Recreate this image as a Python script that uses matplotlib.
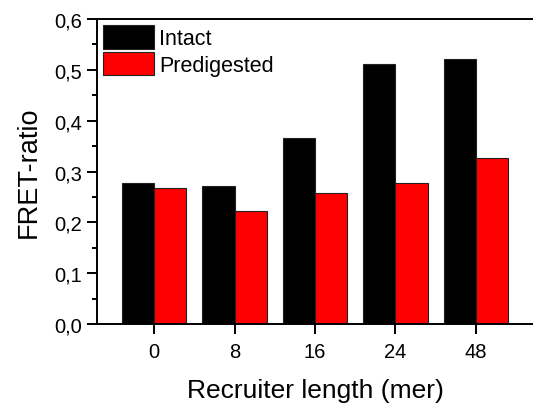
import numpy as np
import matplotlib.pyplot as plt
from matplotlib.ticker import MultipleLocator, FuncFormatter

# values
lengths = ["0", "8", "16", "24", "48"]
intact = [0.277, 0.272, 0.365, 0.511, 0.521]
predigested = [0.267, 0.222, 0.258, 0.277, 0.327]

plt.rcParams['font.family'] = ['Liberation Sans', 'DejaVu Sans']

fig = plt.figure(figsize=(5.33, 4.10), dpi=100)
ax = fig.add_axes([0.182, 0.2073, 0.818, 0.7439])

x = np.arange(len(lengths))
w = 0.4
ax.bar(x - w / 2, intact, w, color="black", edgecolor="#222222", linewidth=0.8, label="Intact")
ax.bar(x + w / 2, predigested, w, color="red", edgecolor="#222222", linewidth=0.8, label="Predigested")

ax.set_xlim(-0.71, 4.71)
ax.set_ylim(0, 0.6)
ax.set_xticks(x)
ax.set_xticklabels(lengths)
ax.yaxis.set_major_locator(MultipleLocator(0.1))
ax.yaxis.set_minor_locator(MultipleLocator(0.05))
ax.yaxis.set_major_formatter(FuncFormatter(lambda v, p: ("%.1f" % v).replace(".", ",")))

for s in ["left", "bottom", "top"]:
    ax.spines[s].set_linewidth(1.4)
ax.spines["right"].set_visible(False)
ax.tick_params(axis="both", which="major", direction="out", length=7, width=1.4, labelsize=14.5)
ax.tick_params(axis="y", which="minor", direction="out", length=3.5, width=1.4)
ax.tick_params(axis="x", pad=6)

ax.set_xlabel("Recruiter length (mer)", fontsize=19, labelpad=12)
ax.set_ylabel("FRET-ratio", fontsize=19.5, labelpad=9)

ax.legend(loc="upper left", frameon=False, fontsize=15.5, handlelength=2.35, handleheight=1.3,
          handletextpad=0.25, labelspacing=0.1, borderpad=0.2, borderaxespad=0.1)

fig.savefig("out.png", dpi=100)
